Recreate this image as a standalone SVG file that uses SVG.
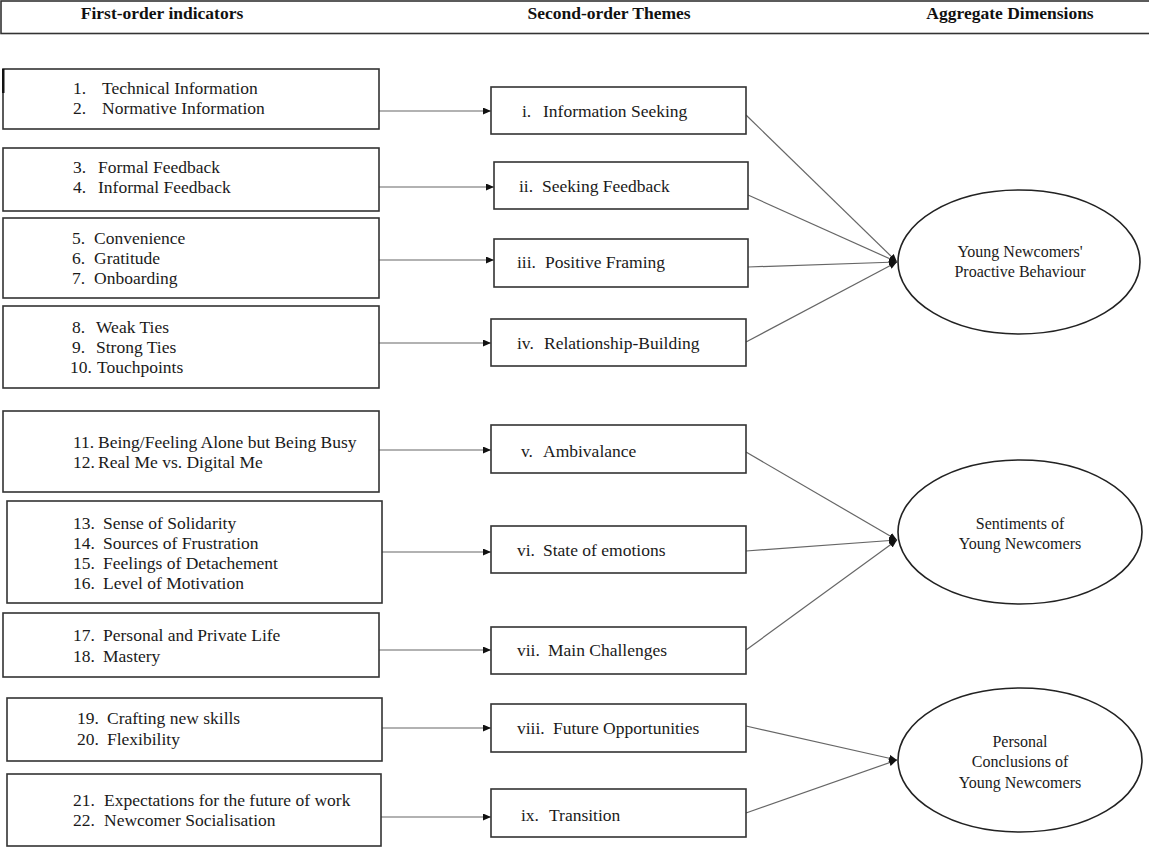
<svg xmlns="http://www.w3.org/2000/svg" width="1149" height="847" viewBox="0 0 1149 847" font-family="'Liberation Serif', 'Times New Roman', Times, serif">
<style>
  .box{fill:#fff;stroke:#333;stroke-width:1.6}
  .ell{fill:#fff;stroke:#222;stroke-width:1.6}
  text{font-family:'Liberation Serif', 'Times New Roman', Times, serif}
  .t{font-size:17.5px;fill:#1a1a1a}
  .te{font-size:16px;fill:#1a1a1a;text-anchor:middle}
  .th{font-size:17.5px;font-weight:bold;fill:#111;text-anchor:middle}
  .c{stroke:#666;stroke-width:1.2;fill:none}
</style>
<defs>
  <marker id="ah" viewBox="0 0 8 7" refX="8" refY="3.5" markerWidth="8" markerHeight="7" markerUnits="userSpaceOnUse" orient="auto">
    <path d="M0,0 L8,3.5 L0,7 z" fill="#111"/>
  </marker>
</defs>
<rect width="1149" height="847" fill="#fff"/>

<g id="header">
  <rect x="1" y="1" width="1152" height="32.5" fill="#fff" stroke="#333" stroke-width="1.6"/>
  <text class="th" x="162" y="19">First-order indicators</text>
  <text class="th" x="609" y="19">Second-order Themes</text>
  <text class="th" x="1010" y="19">Aggregate Dimensions</text>
</g>

<g id="connectors">
  <line class="c" x1="379" y1="111" x2="491" y2="111" marker-end="url(#ah)"/>
  <line class="c" x1="379" y1="187" x2="494" y2="187" marker-end="url(#ah)"/>
  <line class="c" x1="379" y1="260" x2="494" y2="260" marker-end="url(#ah)"/>
  <line class="c" x1="379" y1="343" x2="491" y2="343" marker-end="url(#ah)"/>
  <line class="c" x1="379" y1="450" x2="491" y2="450" marker-end="url(#ah)"/>
  <line class="c" x1="382" y1="552" x2="491" y2="552" marker-end="url(#ah)"/>
  <line class="c" x1="379" y1="650" x2="491" y2="650" marker-end="url(#ah)"/>
  <line class="c" x1="382" y1="728" x2="491" y2="728" marker-end="url(#ah)"/>
  <line class="c" x1="381" y1="817" x2="491" y2="817" marker-end="url(#ah)"/>

  <line class="c" x1="746" y1="115" x2="897" y2="262" marker-end="url(#ah)"/>
  <line class="c" x1="748" y1="195" x2="897" y2="262" marker-end="url(#ah)"/>
  <line class="c" x1="748" y1="267" x2="897" y2="262" marker-end="url(#ah)"/>
  <line class="c" x1="746" y1="342" x2="897" y2="262" marker-end="url(#ah)"/>

  <line class="c" x1="746" y1="452" x2="897" y2="540" marker-end="url(#ah)"/>
  <line class="c" x1="746" y1="551" x2="897" y2="540" marker-end="url(#ah)"/>
  <line class="c" x1="746" y1="650" x2="897" y2="540" marker-end="url(#ah)"/>

  <line class="c" x1="746" y1="726" x2="897" y2="760" marker-end="url(#ah)"/>
  <line class="c" x1="746" y1="813" x2="897" y2="760" marker-end="url(#ah)"/>
</g>

<g id="f1">
  <rect class="box" x="3" y="69" width="376" height="60"/>
  <rect x="2" y="69" width="2.5" height="24" fill="#111"/>
  <text class="t"><tspan x="73" y="94">1.</tspan><tspan x="102" y="94">Technical Information</tspan></text>
  <text class="t"><tspan x="73" y="114">2.</tspan><tspan x="102" y="114">Normative Information</tspan></text>
</g>
<g id="f2">
  <rect class="box" x="3" y="148" width="376" height="63"/>
  <text class="t"><tspan x="73" y="173">3.</tspan><tspan x="98" y="173">Formal Feedback</tspan></text>
  <text class="t"><tspan x="73" y="193">4.</tspan><tspan x="98" y="193">Informal Feedback</tspan></text>
</g>
<g id="f3">
  <rect class="box" x="3" y="218" width="376" height="80"/>
  <text class="t"><tspan x="72" y="244">5.</tspan><tspan x="94" y="244">Convenience</tspan></text>
  <text class="t"><tspan x="72" y="264">6.</tspan><tspan x="94" y="264">Gratitude</tspan></text>
  <text class="t"><tspan x="72" y="284">7.</tspan><tspan x="94" y="284">Onboarding</tspan></text>
</g>
<g id="f4">
  <rect class="box" x="3" y="306" width="376" height="82"/>
  <text class="t"><tspan x="72" y="333">8.</tspan><tspan x="96" y="333">Weak Ties</tspan></text>
  <text class="t"><tspan x="72" y="353">9.</tspan><tspan x="96" y="353">Strong Ties</tspan></text>
  <text class="t"><tspan x="70" y="373">10.</tspan><tspan x="97" y="373">Touchpoints</tspan></text>
</g>
<g id="f5">
  <rect class="box" x="3" y="411" width="376" height="81"/>
  <text class="t"><tspan x="73" y="448">11.</tspan><tspan x="98" y="448">Being/Feeling Alone but Being Busy</tspan></text>
  <text class="t"><tspan x="73" y="468">12.</tspan><tspan x="98" y="468">Real Me vs. Digital Me</tspan></text>
</g>
<g id="f6">
  <rect class="box" x="7" y="501" width="375" height="102"/>
  <text class="t"><tspan x="73" y="529">13.</tspan><tspan x="103" y="529">Sense of Solidarity</tspan></text>
  <text class="t"><tspan x="73" y="549">14.</tspan><tspan x="103" y="549">Sources of Frustration</tspan></text>
  <text class="t"><tspan x="73" y="569">15.</tspan><tspan x="103" y="569">Feelings of Detachement</tspan></text>
  <text class="t"><tspan x="73" y="589">16.</tspan><tspan x="103" y="589">Level of Motivation</tspan></text>
</g>
<g id="f7">
  <rect class="box" x="3" y="613" width="376" height="64"/>
  <text class="t"><tspan x="73" y="641">17.</tspan><tspan x="103" y="641">Personal and Private Life</tspan></text>
  <text class="t"><tspan x="73" y="662">18.</tspan><tspan x="103" y="662">Mastery</tspan></text>
</g>
<g id="f8">
  <rect class="box" x="7" y="698" width="375" height="63"/>
  <text class="t"><tspan x="77" y="724">19.</tspan><tspan x="107" y="724">Crafting new skills</tspan></text>
  <text class="t"><tspan x="77" y="745">20.</tspan><tspan x="107" y="745">Flexibility</tspan></text>
</g>
<g id="f9">
  <rect class="box" x="7" y="774" width="374" height="72"/>
  <text class="t"><tspan x="73" y="806">21.</tspan><tspan x="104" y="806">Expectations for the future of work</tspan></text>
  <text class="t"><tspan x="73" y="826">22.</tspan><tspan x="104" y="826">Newcomer Socialisation</tspan></text>
</g>

<g id="s1">
  <rect class="box" x="491" y="87" width="255" height="47"/>
  <text class="t"><tspan x="522" y="117">i.</tspan><tspan x="543" y="117">Information Seeking</tspan></text>
</g>
<g id="s2">
  <rect class="box" x="494" y="162" width="254" height="47"/>
  <text class="t"><tspan x="519" y="192">ii.</tspan><tspan x="542" y="192">Seeking Feedback</tspan></text>
</g>
<g id="s3">
  <rect class="box" x="494" y="239" width="254" height="48"/>
  <text class="t"><tspan x="517" y="268">iii.</tspan><tspan x="545" y="268">Positive Framing</tspan></text>
</g>
<g id="s4">
  <rect class="box" x="491" y="319" width="255" height="47"/>
  <text class="t"><tspan x="517" y="349">iv.</tspan><tspan x="544" y="349">Relationship-Building</tspan></text>
</g>
<g id="s5">
  <rect class="box" x="491" y="425" width="255" height="48"/>
  <text class="t"><tspan x="521" y="457">v.</tspan><tspan x="543" y="457">Ambivalance</tspan></text>
</g>
<g id="s6">
  <rect class="box" x="491" y="526" width="255" height="47"/>
  <text class="t"><tspan x="517" y="556">vi.</tspan><tspan x="543" y="556">State of emotions</tspan></text>
</g>
<g id="s7">
  <rect class="box" x="491" y="627" width="255" height="47"/>
  <text class="t"><tspan x="517" y="656">vii.</tspan><tspan x="548" y="656">Main Challenges</tspan></text>
</g>
<g id="s8">
  <rect class="box" x="491" y="704" width="255" height="48"/>
  <text class="t"><tspan x="517" y="734">viii.</tspan><tspan x="553" y="734">Future Opportunities</tspan></text>
</g>
<g id="s9">
  <rect class="box" x="491" y="789" width="255" height="48"/>
  <text class="t"><tspan x="521" y="821">ix.</tspan><tspan x="549" y="821">Transition</tspan></text>
</g>

<g id="a1">
  <ellipse class="ell" cx="1019" cy="262" rx="121" ry="72"/>
  <text class="te" x="1020" y="257">Young Newcomers'</text>
  <text class="te" x="1020" y="277">Proactive Behaviour</text>
</g>
<g id="a2">
  <ellipse class="ell" cx="1020" cy="532" rx="122" ry="72"/>
  <text class="te" x="1020" y="529">Sentiments of</text>
  <text class="te" x="1020" y="549">Young Newcomers</text>
</g>
<g id="a3">
  <ellipse class="ell" cx="1020" cy="760" rx="122" ry="72"/>
  <text class="te" x="1020" y="747">Personal</text>
  <text class="te" x="1020" y="767">Conclusions of</text>
  <text class="te" x="1020" y="788">Young Newcomers</text>
</g>
</svg>
